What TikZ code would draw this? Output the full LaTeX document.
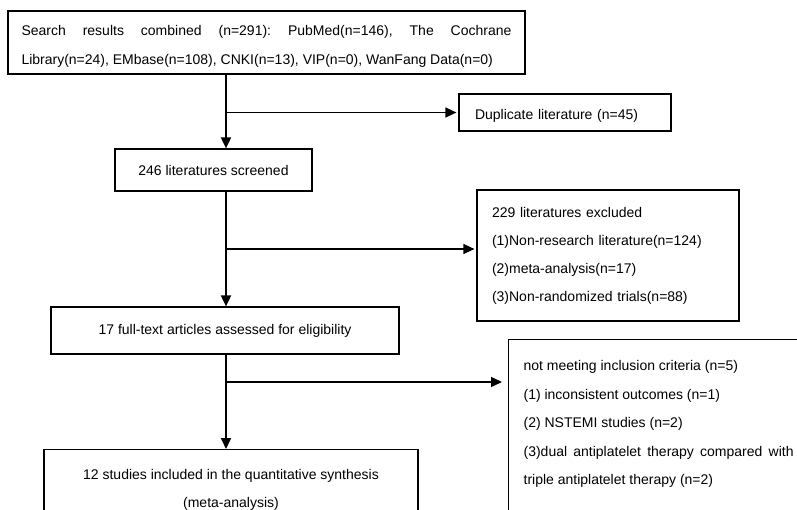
\documentclass[tikz,border=0pt]{standalone}
\usepackage{fontspec}
\setmainfont{Liberation Sans}
\usetikzlibrary{arrows.meta}
\frenchspacing
\newcommand{\lowertext}[2]{\raisebox{-#1}[\height][\depth]{#2}}
\begin{document}
\begin{tikzpicture}[x=1pt,y=-1pt,
  box/.style={draw=black, line width=1.2pt, rectangle, inner sep=0pt,
    font=\fontsize{14pt}{28pt}\selectfont},
  arr/.style={line width=1.8pt, -{Triangle[length=11pt,width=10pt]}},
  harr/.style={line width=1.4pt, -{Triangle[length=11pt,width=10pt]}}]
\clip (0,0) rectangle (797,510);
\fill[white] (0,0) rectangle (797,510);
\coordinate (sp) at (226,0);
\node[box, minimum width=517pt, minimum height=63pt,
  font=\fontsize{14pt}{29pt}\selectfont] (top) at (266.5,42.5)
  {\lowertext{4pt}{\parbox{490pt}{Search results combined (n=291): PubMed(n=146), The Cochrane\linebreak Library(n=24), EMbase(n=108), CNKI(n=13), VIP(n=0), WanFang Data(n=0)}}};
\node[box, minimum width=212pt, minimum height=37pt, text width=180pt, align=left] (dup) at (565,112.5)
  {\lowertext{3pt}{Duplicate literature (n=45)}};
\node[box, minimum width=197pt, minimum height=42pt] (scr) at (213.5,170)
  {246 literatures screened};
\node[box, minimum width=262pt, minimum height=131pt, text width=232pt, align=left] (exc) at (608,255.5)
  {229 literatures excluded\\(1)Non-research literature(n=124)\\(2)meta-analysis(n=17)\\(3)Non-randomized trials(n=88)};
\node[box, minimum width=348pt, minimum height=47pt] (ful) at (225,330.5)
  {17 full-text articles assessed for eligibility};
\node[box, anchor=north, minimum width=374pt, inner ysep=20pt, align=center] (inc) at (231,449)
  {12 studies included in the quantitative synthesis\\(meta-analysis)};
\node[box, anchor=north west, inner xsep=15pt, inner ysep=21pt,
  font=\fontsize{14pt}{28.5pt}\selectfont] (nm) at (508,339)
  {\parbox[t][190pt][t]{270pt}{not meeting inclusion criteria (n=5)\\
  (1) inconsistent outcomes (n=1)\\
  (2) NSTEMI studies (n=2)\\
  (3)dual antiplatelet therapy compared with\linebreak triple antiplatelet therapy (n=2)}};
\draw[arr] (top.south -| sp) -- (scr.north -| sp);
\draw[harr, shorten >=2pt] (dup.west -| sp) -- (dup.west);
\draw[arr] (scr.south -| sp) -- (ful.north -| sp);
\coordinate (b2) at (226,249);
\draw[harr, shorten >=2pt] (b2) -- (b2 -| exc.west);
\draw[arr] (ful.south -| sp) -- (inc.north -| sp);
\coordinate (b3) at (226,382);
\draw[harr, shorten >=6pt] (b3) -- (b3 -| nm.west);
\end{tikzpicture}
\end{document}
